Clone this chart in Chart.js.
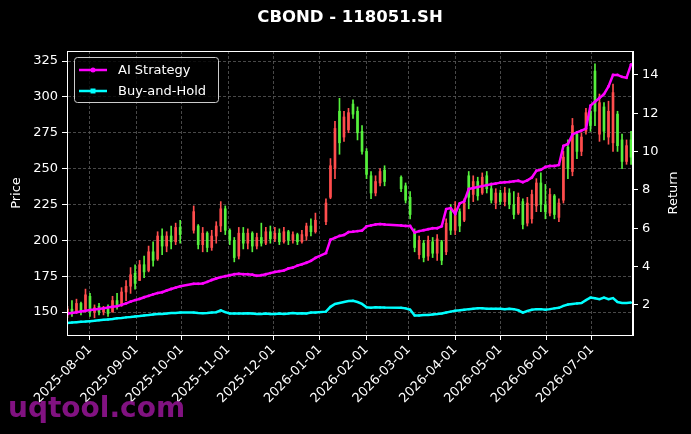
<!DOCTYPE html>
<html>
<head>
<meta charset="utf-8">
<script src="https://cdn.jsdelivr.net/npm/chart.js@4.4.1/dist/chart.umd.min.js"></script>
<style>
  html, body { margin: 0; padding: 0; background: #000; }
  #wrap { width: 691px; height: 434px; }
</style>
</head>
<body>
<div id="wrap"><canvas id="chart" width="691" height="434"></canvas></div>
<script>
// days counted from 2025-08-01
const candleDays = [-15, -12, -9, -6, -3, 0, 3, 6, 9, 12, 15, 18, 21, 24, 27, 30, 33, 36, 39, 42, 45, 48, 51, 54, 57, 60,
    69, 72, 75, 78, 81, 84, 87, 90, 93, 96, 99, 102, 105, 108, 111, 114, 117, 120, 123, 126, 129, 132, 135, 138, 141, 144, 147, 150,
    157, 160, 163, 166, 169, 172, 175, 178, 181, 184, 187, 190, 193, 196,
    207, 210, 213, 216, 219, 222, 225, 228, 231, 234, 237, 240, 243, 246, 249, 252, 255, 258, 261, 264, 267, 270, 273, 276, 279,
    282, 285, 288, 291, 294, 297, 300, 303, 306, 309, 312, 315, 318, 321, 324, 327, 330, 333, 336, 339, 342, 345, 348, 351, 354, 357, 360];

const opens = [148, 152, 150, 156, 152, 161, 150, 154, 150, 152, 150, 158, 155, 164, 168, 177, 172, 183, 179, 192, 187, 203, 196, 203, 199, 209,
    207, 210, 197, 205, 195, 203, 210, 222, 207, 200, 189, 205, 198, 205, 196, 202, 198, 206, 201, 205, 199, 206, 200, 204, 199, 203, 210, 206,
    213, 230, 250, 290, 272, 277, 295, 290, 276, 262, 245, 233, 240, 249,
    244, 238, 230, 206, 190, 198, 189, 199, 191, 199, 192, 220, 207, 220, 214, 245, 232, 241, 233, 245, 236, 226, 233, 227, 233,
    225, 219, 227, 212, 215, 224, 240, 225, 219, 231, 216, 228, 265, 248, 274, 262, 276, 290, 318, 274, 293, 272, 268, 288, 270, 255, 270];
const highs = [154, 158, 159, 157, 166, 163, 155, 156, 154, 155, 161, 163, 167, 172, 181, 183, 186, 189, 196, 199, 206, 208, 206, 210, 212, 214,
    224, 211, 209, 206, 207, 213, 227, 224, 208, 202, 209, 209, 208, 206, 205, 212, 209, 210, 209, 208, 209, 207, 206, 205, 207, 212, 215, 219,
    229, 257, 283, 299, 290, 292, 298, 293, 280, 264, 248, 245, 250, 252,
    245, 240, 234, 208, 203, 200, 203, 202, 204, 200, 215, 225, 227, 222, 229, 248, 245, 244, 247, 248, 240, 236, 235, 237, 236,
    234, 233, 229, 230, 235, 243, 247, 239, 236, 232, 229, 262, 270, 285, 276, 275, 292, 293, 323, 302, 296, 297, 309, 290, 274, 270, 276];
const lows = [146, 147, 149, 148, 150, 147, 146, 148, 148, 147, 150, 152, 154, 158, 163, 166, 172, 174, 178, 182, 186, 190, 192, 194, 197, 198,
    205, 194, 192, 192, 193, 198, 206, 204, 197, 185, 187, 194, 194, 192, 194, 196, 197, 198, 199, 197, 198, 197, 198, 197, 198, 200, 203, 205,
    211, 229, 243, 260, 269, 275, 285, 270, 260, 243, 229, 231, 238, 238,
    234, 226, 215, 192, 187, 185, 186, 188, 186, 183, 190, 204, 204, 206, 213, 222, 227, 228, 232, 233, 226, 222, 225, 224, 222,
    215, 218, 208, 210, 212, 220, 220, 215, 217, 215, 213, 226, 243, 245, 257, 259, 274, 276, 280, 269, 270, 267, 262, 262, 250, 253, 253];
const closes = [152, 149, 156, 151, 162, 150, 153, 150, 152, 149, 158, 155, 164, 168, 176, 170, 183, 178, 192, 186, 203, 196, 203, 199, 209, 204,
    220, 197, 205, 195, 203, 210, 222, 207, 200, 188, 205, 198, 205, 196, 202, 198, 206, 201, 205, 199, 206, 200, 204, 199, 204, 210, 206, 214,
    226, 252, 278, 268, 286, 289, 288, 275, 262, 246, 233, 241, 248, 241,
    236, 228, 218, 195, 200, 188, 200, 191, 201, 186, 212, 207, 222, 210, 226, 230, 241, 231, 244, 236, 228, 233, 227, 233, 225,
    218, 230, 211, 226, 232, 240, 225, 220, 232, 218, 226, 258, 250, 280, 262, 272, 289, 280, 290, 296, 276, 290, 303, 266, 255, 266, 258];

const aiReturn = [1.55, 1.58, 1.62, 1.66, 1.7, 1.73, 1.76, 1.79, 1.82, 1.87, 1.9, 1.93, 2.0, 2.08, 2.17, 2.25, 2.31, 2.4, 2.47, 2.55, 2.62, 2.66, 2.75, 2.83, 2.9, 2.97,
    3.1, 3.1, 3.12, 3.2, 3.3, 3.38, 3.45, 3.5, 3.55, 3.6, 3.62, 3.6, 3.6, 3.58, 3.52, 3.55, 3.6, 3.66, 3.72, 3.76, 3.8, 3.9, 3.95, 4.05, 4.12, 4.2, 4.3, 4.45,
    4.7, 5.4, 5.5, 5.6, 5.65, 5.8, 5.82, 5.85, 5.88, 6.1, 6.15, 6.2, 6.22, 6.2,
    6.15, 6.12, 6.12, 5.78, 5.85, 5.9, 5.95, 6.0, 6.0, 6.1, 7.0, 7.05, 6.75, 7.3, 7.4, 8.05, 8.1, 8.15, 8.2, 8.25, 8.3, 8.33, 8.38,
    8.4, 8.42, 8.45, 8.48, 8.4, 8.5, 8.65, 9.0, 9.05, 9.2, 9.25, 9.25, 9.3, 10.3, 10.4, 10.9, 11.0, 11.1, 11.2, 12.4, 12.6, 12.8, 13.0, 13.4, 14.0, 14.0, 13.9, 13.85, 14.55];
const holdReturn = [1.06, 1.08, 1.1, 1.12, 1.13, 1.15, 1.17, 1.2, 1.22, 1.24, 1.26, 1.3, 1.32, 1.35, 1.37, 1.4, 1.42, 1.45, 1.47, 1.5, 1.52, 1.53, 1.55, 1.58, 1.58, 1.6,
    1.6, 1.58, 1.57, 1.58, 1.6, 1.62, 1.72, 1.62, 1.55, 1.55, 1.55, 1.55, 1.56, 1.55, 1.53, 1.53, 1.55, 1.52, 1.52, 1.55, 1.53, 1.55, 1.58, 1.55, 1.56, 1.55, 1.6, 1.6,
    1.65, 1.9, 2.05, 2.1, 2.15, 2.2, 2.22, 2.15, 2.05, 1.88, 1.85, 1.88, 1.87, 1.86,
    1.85, 1.82, 1.75, 1.45, 1.45, 1.47, 1.48, 1.5, 1.52, 1.55, 1.6, 1.65, 1.7, 1.72, 1.75, 1.78, 1.8, 1.82, 1.82, 1.8, 1.8, 1.8, 1.8,
    1.78, 1.8, 1.78, 1.72, 1.6, 1.68, 1.75, 1.78, 1.78, 1.75, 1.78, 1.82, 1.85, 1.95, 2.02, 2.05, 2.08, 2.1, 2.25, 2.38, 2.35, 2.3, 2.38, 2.3, 2.36, 2.15, 2.1, 2.1, 2.12];

const tickLabels = ['2025-08-01', '2025-09-01', '2025-10-01', '2025-11-01', '2025-12-01', '2026-01-01',
    '2026-02-01', '2026-03-01', '2026-04-01', '2026-05-01', '2026-06-01', '2026-07-01'];
const priceTicks = [150, 175, 200, 225, 250, 275, 300, 325];
const returnTicks = [2, 4, 6, 8, 10, 12, 14];

const upColor = '#ff4d4d';   // red = close above open
const downColor = '#55f03c';
const font = 'DejaVu Sans';

function toDay(s) {
    const d = Date.UTC(+s.slice(0, 4), +s.slice(5, 7) - 1, +s.slice(8, 10));
    return (d - Date.UTC(2025, 7, 1)) / 86400000;
}
const tickDays = tickLabels.map(toDay);

const candleColors = opens.map((o, i) => closes[i] >= o ? upColor : downColor);

const decor = {
    id: 'decor',
    beforeDraw(chart) {
        const ctx = chart.ctx;
        ctx.save();
        ctx.fillStyle = '#000';
        ctx.fillRect(0, 0, chart.width, chart.height);
        ctx.restore();
    },
    afterDraw(chart) {
        const ctx = chart.ctx;
        const a = chart.chartArea;
        ctx.save();
        // frame
        ctx.strokeStyle = '#fff';
        ctx.lineWidth = 1;
        ctx.strokeRect(a.left + 0.5, a.top + 0.5, a.right - a.left - 1, a.bottom - a.top);

        // title
        ctx.fillStyle = '#fff';
        ctx.textAlign = 'center';
        ctx.textBaseline = 'middle';
        ctx.font = 'bold 16.5px "' + font + '"';
        ctx.fillText('CBOND - 118051.SH', (a.left + a.right) / 2, 18);

        // axis titles
        ctx.font = '13px "' + font + '"';
        ctx.save();
        ctx.translate(17, (a.top + a.bottom) / 2);
        ctx.rotate(-Math.PI / 2);
        ctx.fillText('Price', 0, 0);
        ctx.restore();
        ctx.save();
        ctx.translate(674, (a.top + a.bottom) / 2);
        ctx.rotate(-Math.PI / 2);
        ctx.fillText('Return', 0, 0);
        ctx.restore();

        // legend
        ctx.beginPath();
        ctx.roundRect(74.5, 57.5, 144, 45, 3);
        ctx.fillStyle = 'rgba(0,0,0,0.8)';
        ctx.fill();
        ctx.strokeStyle = '#cccccc';
        ctx.lineWidth = 1;
        ctx.stroke();
        const entries = [['AI Strategy', '#ff00ff', 'circle', 70], ['Buy-and-Hold', '#00ffff', 'rect', 91]];
        ctx.textAlign = 'left';
        entries.forEach(([label, color, shape, y]) => {
            ctx.strokeStyle = color;
            ctx.fillStyle = color;
            ctx.lineWidth = 2.5;
            ctx.beginPath();
            ctx.moveTo(79, y);
            ctx.lineTo(107, y);
            ctx.stroke();
            ctx.beginPath();
            if (shape === 'circle') ctx.arc(93, y, 2.5, 0, Math.PI * 2);
            else ctx.rect(90.5, y - 2.5, 5, 5);
            ctx.fill();
            ctx.fillStyle = '#fff';
            ctx.fillText(label, 118, y + 1);
        });

        // watermark
        ctx.fillStyle = 'rgba(140, 20, 140, 0.92)';
        ctx.font = 'bold 28px "' + font + '"';
        ctx.textAlign = 'left';
        ctx.textBaseline = 'alphabetic';
        ctx.fillText('uqtool.com', 8, 417);
        ctx.restore();
    }
};

new Chart(document.getElementById('chart').getContext('2d'), {
    data: {
        datasets: [{
            type: 'line',
            label: 'AI Strategy',
            data: candleDays.map((d, i) => ({x: d, y: aiReturn[i]})),
            yAxisID: 'y1',
            borderColor: '#ff00ff',
            backgroundColor: '#ff00ff',
            borderWidth: 2.5,
            pointRadius: 1.4,
            pointBorderWidth: 0,
            order: 0,
        }, {
            type: 'line',
            label: 'Buy-and-Hold',
            data: candleDays.map((d, i) => ({x: d, y: holdReturn[i]})),
            yAxisID: 'y1',
            borderColor: '#00ffff',
            backgroundColor: '#00ffff',
            borderWidth: 2.5,
            pointRadius: 1.4,
            pointStyle: 'rect',
            pointBorderWidth: 0,
            order: 1,
        }, {
            type: 'bar',
            label: 'body',
            data: candleDays.map((d, i) => ({x: d, y: [opens[i], closes[i]]})),
            yAxisID: 'y',
            backgroundColor: candleColors,
            barThickness: 2,
            grouped: false,
            order: 2,
        }, {
            type: 'bar',
            label: 'wick',
            data: candleDays.map((d, i) => ({x: d, y: [lows[i], highs[i]]})),
            yAxisID: 'y',
            backgroundColor: candleColors,
            barThickness: 1,
            grouped: false,
            order: 3,
        }]
    },
    options: {
        responsive: false,
        devicePixelRatio: 1,
        animation: false,
        layout: {padding: {top: 51, left: 0, right: 0, bottom: 0}},
        plugins: {legend: {display: false}, tooltip: {enabled: false}, title: {display: false}},
        scales: {
            x: {
                type: 'linear',
                offset: false,
                min: -15.3,
                max: 361.3,
                afterBuildTicks: s => { s.ticks = tickDays.map(v => ({value: v})); },
                afterFit: s => { s.height = 99; },
                ticks: {
                    color: '#fff',
                    font: {family: font, size: 13},
                    minRotation: 45,
                    maxRotation: 45,
                    autoSkip: false,
                    padding: 2,
                    callback: v => tickLabels[tickDays.indexOf(v)] || '',
                },
                grid: {offset: false, color: '#5a5a5a', lineWidth: 0.8, tickColor: '#fff', tickLength: 5, tickWidth: 1},
                border: {display: true, color: '#fff', width: 1, dash: [3, 2]},
            },
            y: {
                position: 'left',
                min: 134,
                max: 332,
                afterBuildTicks: s => { s.ticks = priceTicks.map(v => ({value: v})); },
                afterFit: s => { s.width = 67; },
                ticks: {color: '#fff', font: {family: font, size: 13}, padding: 4},
                grid: {color: '#5a5a5a', lineWidth: 0.8, tickColor: '#fff', tickLength: 5, tickWidth: 1},
                border: {display: true, color: '#fff', width: 1, dash: [3, 2]},
            },
            y1: {
                position: 'right',
                min: 0.43,
                max: 15.25,
                afterBuildTicks: s => { s.ticks = returnTicks.map(v => ({value: v})); },
                afterFit: s => { s.width = 58; },
                ticks: {color: '#fff', font: {family: font, size: 13}, padding: 4},
                grid: {drawOnChartArea: false, tickColor: '#fff', tickLength: 5, tickWidth: 1},
                border: {display: true, color: '#fff', width: 1},
            }
        }
    },
    plugins: [decor]
});
</script>
</body>
</html>
